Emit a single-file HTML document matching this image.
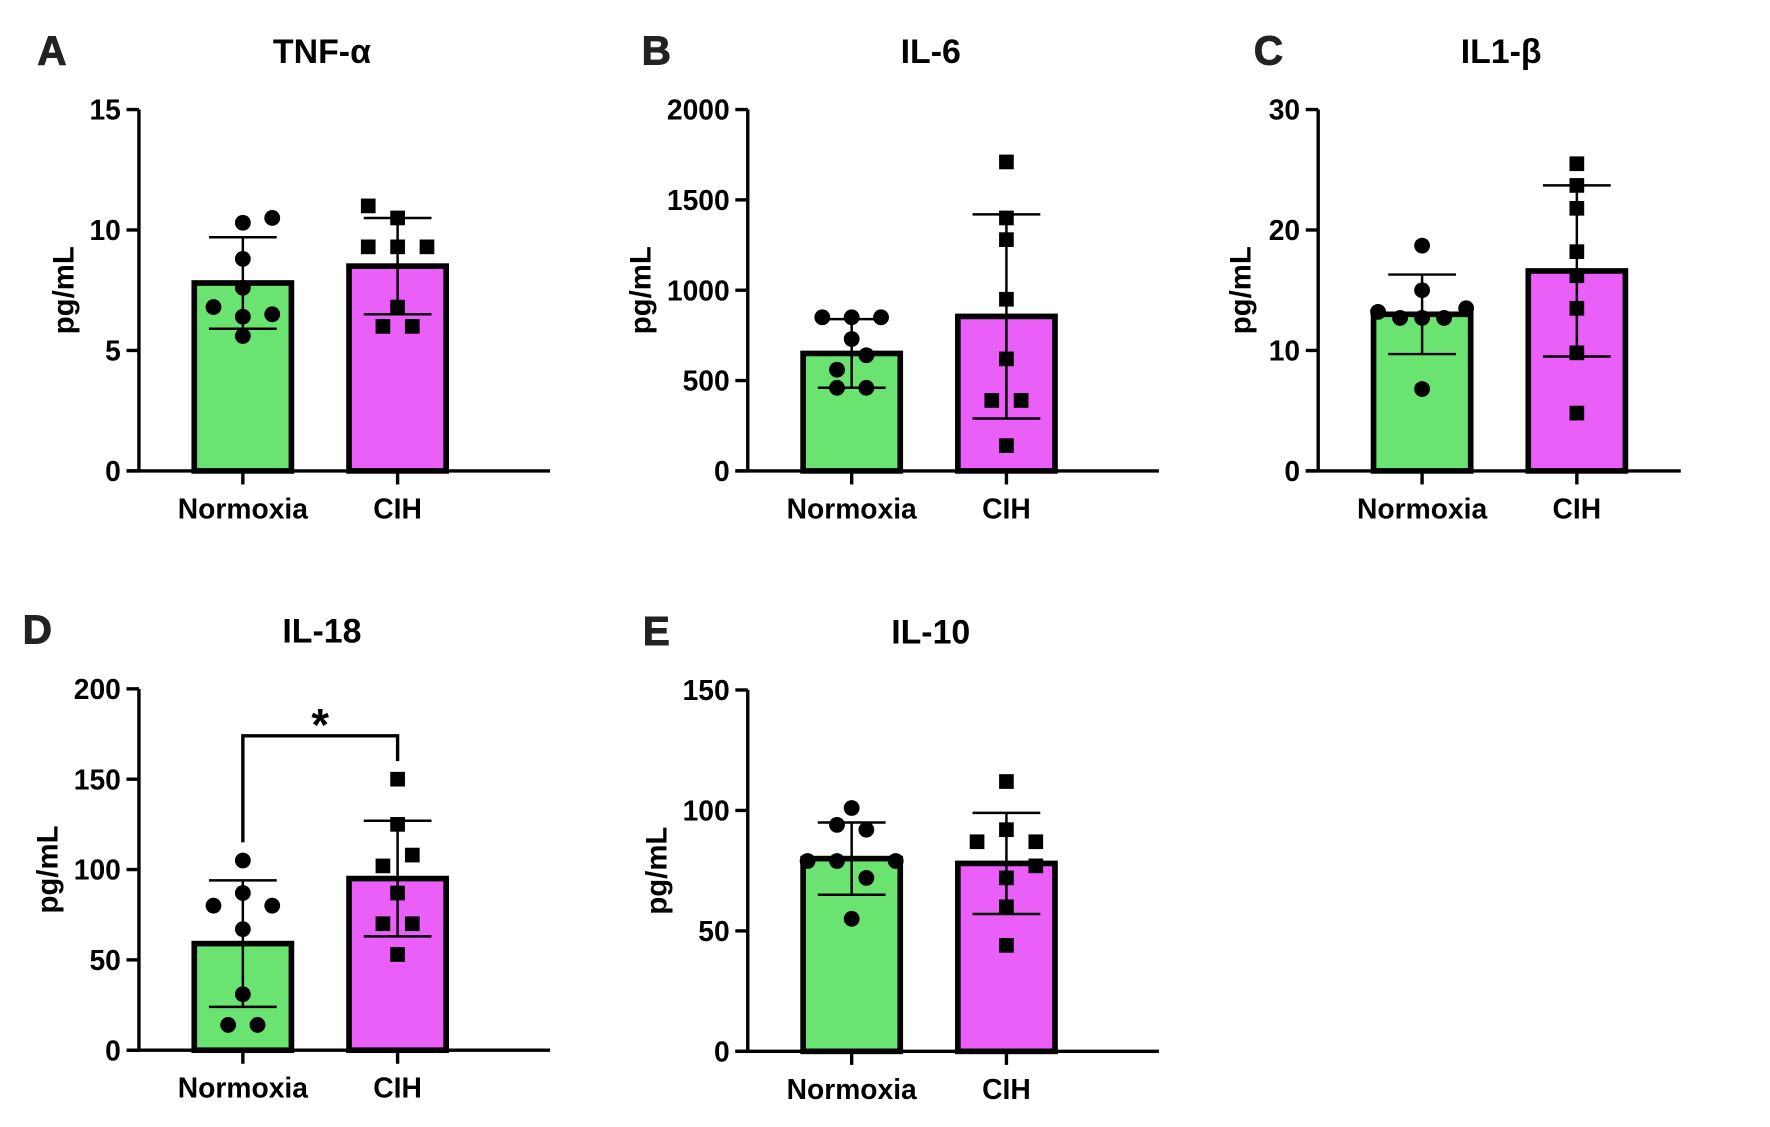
<!DOCTYPE html>
<html><head><meta charset="utf-8"><style>
html,body{margin:0;padding:0;background:#fff;}
svg{display:block;font-family:"Liberation Sans",Arial,sans-serif;font-weight:bold;}
</style></head><body>
<svg id="fig" width="1770" height="1127" viewBox="0 0 1567 998" preserveAspectRatio="none" xmlns="http://www.w3.org/2000/svg"></svg>
<script>
const categories = ["Normoxia", "CIH"];
// Panel A TNF-a
const tnfMeans = [7.8, 8.5];
const tnfSD = [1.9, 2.0];
const tnfNormoxia = [10.3, 10.5, 8.8, 7.6, 6.8, 6.5, 6.4, 5.6];
const tnfNormoxiaJitter = [0, 2, 0, 0, -2, 2, 0, 0];
const tnfCIH = [11.0, 10.5, 9.3, 9.3, 9.3, 6.8, 6.0, 6.0];
const tnfCIHJitter = [-2, 0, -2, 0, 2, 0, -1, 1];
const tnfTicks = [0, 5, 10, 15];
// Panel B IL-6
const il6Means = [650, 855];
const il6SD = [190, 565];
const il6Normoxia = [850, 850, 850, 730, 640, 560, 460, 460];
const il6NormoxiaJitter = [-2, 0, 2, 0, 1, -1, -1, 1];
const il6CIH = [1710, 1400, 1280, 950, 620, 390, 390, 140];
const il6CIHJitter = [0, 0, 0, 0, 0, -1, 1, 0];
const il6Ticks = [0, 500, 1000, 1500, 2000];
// Panel C IL1-b
const il1Means = [13.0, 16.6];
const il1SD = [3.3, 7.1];
const il1Normoxia = [18.7, 15.0, 13.2, 13.5, 12.7, 12.7, 12.7, 6.8];
const il1NormoxiaJitter = [0, 0, -3, 3, -1.5, 0, 1.5, 0];
const il1CIH = [25.5, 23.7, 21.8, 18.2, 16.2, 13.5, 9.8, 4.8];
const il1CIHJitter = [0, 0, 0, 0, 0, 0, 0, 0];
const il1Ticks = [0, 10, 20, 30];
// Panel D IL-18
const il18Means = [59, 95];
const il18SD = [35, 32];
const il18Normoxia = [105, 87, 80, 80, 67, 31, 14, 14];
const il18NormoxiaJitter = [0, 0, -2, 2, 0, 0, -1, 1];
const il18CIH = [150, 125, 108, 102, 87, 70, 70, 53];
const il18CIHJitter = [0, 0, 1, -1, 0, -1, 1, 0];
const il18Ticks = [0, 50, 100, 150, 200];
// Panel E IL-10
const il10Means = [80, 78];
const il10SD = [15, 21];
const il10Normoxia = [101, 94, 92, 79, 79, 79, 72, 55];
const il10NormoxiaJitter = [0, -1, 1, -3, -1, 3, 1, 0];
const il10CIH = [112, 92, 87, 87, 77, 72, 60, 44];
const il10CIHJitter = [0, 0, -2, 2, 2, 0, 0, 0];
const il10Ticks = [0, 50, 100, 150];

const NS = "http://www.w3.org/2000/svg";
const svg = document.getElementById("fig");
function mk(tag, attrs, parent, text) {
  const e = document.createElementNS(NS, tag);
  for (const k in attrs) e.setAttribute(k, attrs[k]);
  if (text !== undefined) e.textContent = text;
  (parent || svg).appendChild(e);
  return e;
}

function panel(cfg) {
  const g = mk("g", {});
  
  
  const ax = cfg.ax, top = cfg.top, bot = cfg.bot;
  const max = cfg.ticks[cfg.ticks.length - 1];
  const y = v => bot - (v / max) * (bot - top);
  const xc = [ax + 92, ax + 229];
  const barW = 86, jit = 13;
  const L = mk("text", {x: cfg.lx, y: top - 40, "font-size": 36, "text-anchor": "middle", fill: "#222", "stroke": "#222", "stroke-width": 0.8}, g, cfg.letter);
  
  
  const T = mk("text", {x: ax + 162, y: top - 41, "font-size": 30, "text-anchor": "middle"}, g, cfg.title);
  
  
  const yt = mk("text", {x: 0, y: 0, "font-size": 26, "text-anchor": "middle", transform: `translate(${ax + cfg.yto},${(top + bot) / 2}) rotate(-90)`}, g, "pg/mL");
  
  
  const fills = ["#6be370", "#ea5ff8"];
  for (let i = 0; i < 2; i++) {
    const r = mk("rect", {x: xc[i] - barW / 2, y: y(cfg.means[i]), width: barW, height: bot - y(cfg.means[i]), fill: fills[i], stroke: "#000", "stroke-width": 5}, g);
    
    
  }
  const sets = [[cfg.n, cfg.nj], [cfg.c, cfg.cj]];
  for (let i = 0; i < 2; i++) {
    sets[i][0].forEach((v, k) => {
      const px = xc[i] + sets[i][1][k] * jit, py = y(v);
      let p;
      if (i === 0) p = mk("circle", {cx: px, cy: py, r: 7, fill: "#000"}, g);
      else p = mk("rect", {x: px - 6.5, y: py - 6.5, width: 13, height: 13, fill: "#000"}, g);
      
      
    });
  }
  for (let i = 0; i < 2; i++) {
    const hi = y(cfg.means[i] + cfg.sd[i]), lo = y(cfg.means[i] - cfg.sd[i]);
    const e = mk("path", {d: `M${xc[i]} ${hi}V${lo}M${xc[i] - 30} ${hi}H${xc[i] + 30}M${xc[i] - 30} ${lo}H${xc[i] + 30}`, stroke: "#000", "stroke-width": 2.2, fill: "none"}, g);
    
    
  }
  const a = mk("path", {d: `M${ax} ${top}V${bot}M${ax - 11} ${bot}H${ax + cfg.xlen}`, stroke: "#000", "stroke-width": 3, fill: "none"}, g);
  
  
  cfg.ticks.forEach(t => {
    const tk = mk("line", {x1: ax - 11, x2: ax, y1: y(t), y2: y(t), stroke: "#000", "stroke-width": 3}, g);
    
    
    const tl = mk("text", {x: ax - 16, y: y(t) + 9, "font-size": 25, "text-anchor": "end"}, g, String(t));
    
    
  });
  for (let i = 0; i < 2; i++) {
    const tk = mk("line", {x1: xc[i], x2: xc[i], y1: bot, y2: bot + 12, stroke: "#000", "stroke-width": 3}, g);
    
    
    const tl = mk("text", {x: xc[i], y: bot + 42, "font-size": 25, "text-anchor": "middle"}, g, categories[i]);
    
    
  }
  if (cfg.sig) {
    const b = mk("path", {d: `M${xc[0]} ${y(cfg.sig[0])}V${y(cfg.sig[2])}H${xc[1]}V${y(cfg.sig[1])}`, stroke: "#000", "stroke-width": 3, fill: "none"}, g);
    
    
    const s = mk("text", {x: (xc[0] + xc[1]) / 2, y: y(cfg.sig[2]) + 4, "font-size": 40, "text-anchor": "middle"}, g, "*");
    
    
  }
}

panel({id: "tnf", letter: "A", title: "TNF-α", lx: 46, ax: 123, yto: -58, xlen: 364, top: 97, bot: 417, ticks: tnfTicks, means: tnfMeans, sd: tnfSD, n: tnfNormoxia, nj: tnfNormoxiaJitter, c: tnfCIH, cj: tnfCIHJitter});
panel({id: "il6", letter: "B", title: "IL-6", lx: 581, ax: 662, yto: -86, xlen: 364, top: 97, bot: 417, ticks: il6Ticks, means: il6Means, sd: il6SD, n: il6Normoxia, nj: il6NormoxiaJitter, c: il6CIH, cj: il6CIHJitter});
panel({id: "il1b", letter: "C", title: "IL1-β", lx: 1123, ax: 1167, yto: -60, xlen: 321, top: 97, bot: 417, ticks: il1Ticks, means: il1Means, sd: il1SD, n: il1Normoxia, nj: il1NormoxiaJitter, c: il1CIH, cj: il1CIHJitter});
panel({id: "il18", letter: "D", title: "IL-18", lx: 33, ax: 123, yto: -72, xlen: 364, top: 610, bot: 930, ticks: il18Ticks, means: il18Means, sd: il18SD, n: il18Normoxia, nj: il18NormoxiaJitter, c: il18CIH, cj: il18CIHJitter, sig: [115, 160, 174]});
panel({id: "il10", letter: "E", title: "IL-10", lx: 581, ax: 662, yto: -72, xlen: 364, top: 611, bot: 931, ticks: il10Ticks, means: il10Means, sd: il10SD, n: il10Normoxia, nj: il10NormoxiaJitter, c: il10CIH, cj: il10CIHJitter});
</script>
</body></html>
